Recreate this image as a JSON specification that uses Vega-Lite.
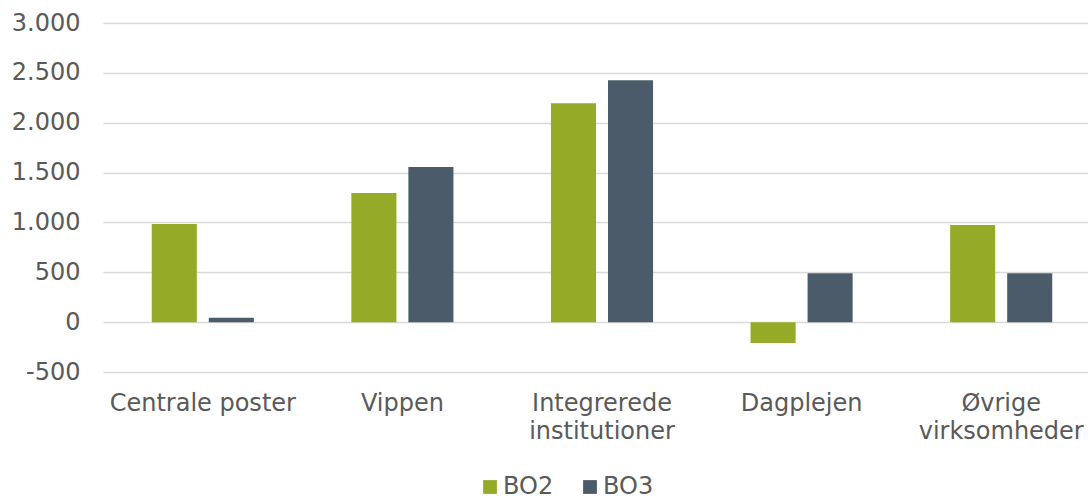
{
  "$schema": "https://vega.github.io/schema/vega-lite/v6.json",
  "autosize": "none",
  "padding": {"left": 103, "top": 23, "right": 0, "bottom": 126},
  "width": 985,
  "height": 349,
  "background": "white",
  "config": {
    "locale": {"number": {"decimal": ",", "thousands": ".", "grouping": [3], "currency": ["", " kr."], "minus": "-"}},
    "view": {"stroke": null},
    "font": "DejaVu Sans",
    "axis": {"labelFont": "DejaVu Sans", "labelColor": "#595959", "labelFontSize": 24},
    "legend": {"labelFont": "DejaVu Sans"}
  },
  "data": {
    "values": [
      {"kategori": "Centrale poster", "serie": "BO2", "beloeb": 985},
      {"kategori": "Centrale poster", "serie": "BO3", "beloeb": 45},
      {"kategori": "Vippen", "serie": "BO2", "beloeb": 1295},
      {"kategori": "Vippen", "serie": "BO3", "beloeb": 1555},
      {"kategori": "Integrerede institutioner", "serie": "BO2", "beloeb": 2195},
      {"kategori": "Integrerede institutioner", "serie": "BO3", "beloeb": 2425},
      {"kategori": "Dagplejen", "serie": "BO2", "beloeb": -210},
      {"kategori": "Dagplejen", "serie": "BO3", "beloeb": 490},
      {"kategori": "Øvrige virksomheder", "serie": "BO2", "beloeb": 975},
      {"kategori": "Øvrige virksomheder", "serie": "BO3", "beloeb": 490}
    ]
  },
  "mark": {"type": "bar"},
  "encoding": {
    "x": {
      "field": "kategori",
      "type": "nominal",
      "sort": null,
      "title": null,
      "scale": {"range": [0, 998], "paddingInner": 0, "paddingOuter": 0},
      "axis": {
        "domain": false,
        "ticks": false,
        "grid": false,
        "labelAngle": 0,
        "labelPadding": 19,
        "labelLineHeight": 28,
        "labelLimit": 400,
        "labelExpr": "datum.label == 'Integrerede institutioner' ? ['Integrerede', 'institutioner'] : datum.label == 'Øvrige virksomheder' ? ['Øvrige', 'virksomheder'] : datum.label"
      }
    },
    "xOffset": {
      "field": "serie",
      "type": "nominal",
      "sort": ["BO2", "BO3"],
      "scale": {"paddingInner": 0.21, "paddingOuter": 0.855}
    },
    "y": {
      "field": "beloeb",
      "type": "quantitative",
      "title": null,
      "scale": {"domain": [-500, 3000], "nice": false, "zero": false},
      "axis": {
        "values": [-500, 0, 500, 1000, 1500, 2000, 2500, 3000],
        "format": ",.0f",
        "domain": false,
        "ticks": false,
        "labelPadding": 23,
        "gridColor": "#d9d9d9",
        "gridWidth": 1.5
      }
    },
    "color": {
      "field": "serie",
      "type": "nominal",
      "scale": {"domain": ["BO2", "BO3"], "range": ["#95aa27", "#4b5b69"]},
      "legend": {
        "title": null,
        "orient": "none",
        "direction": "horizontal",
        "legendX": 375,
        "legendY": 452,
        "padding": 0,
        "symbolType": "square",
        "symbolSize": 190,
        "symbolStrokeWidth": 0,
        "symbolOpacity": 1,
        "labelFontSize": 24,
        "labelColor": "#595959",
        "labelOffset": 1,
        "columnPadding": 24
      }
    }
  }
}
